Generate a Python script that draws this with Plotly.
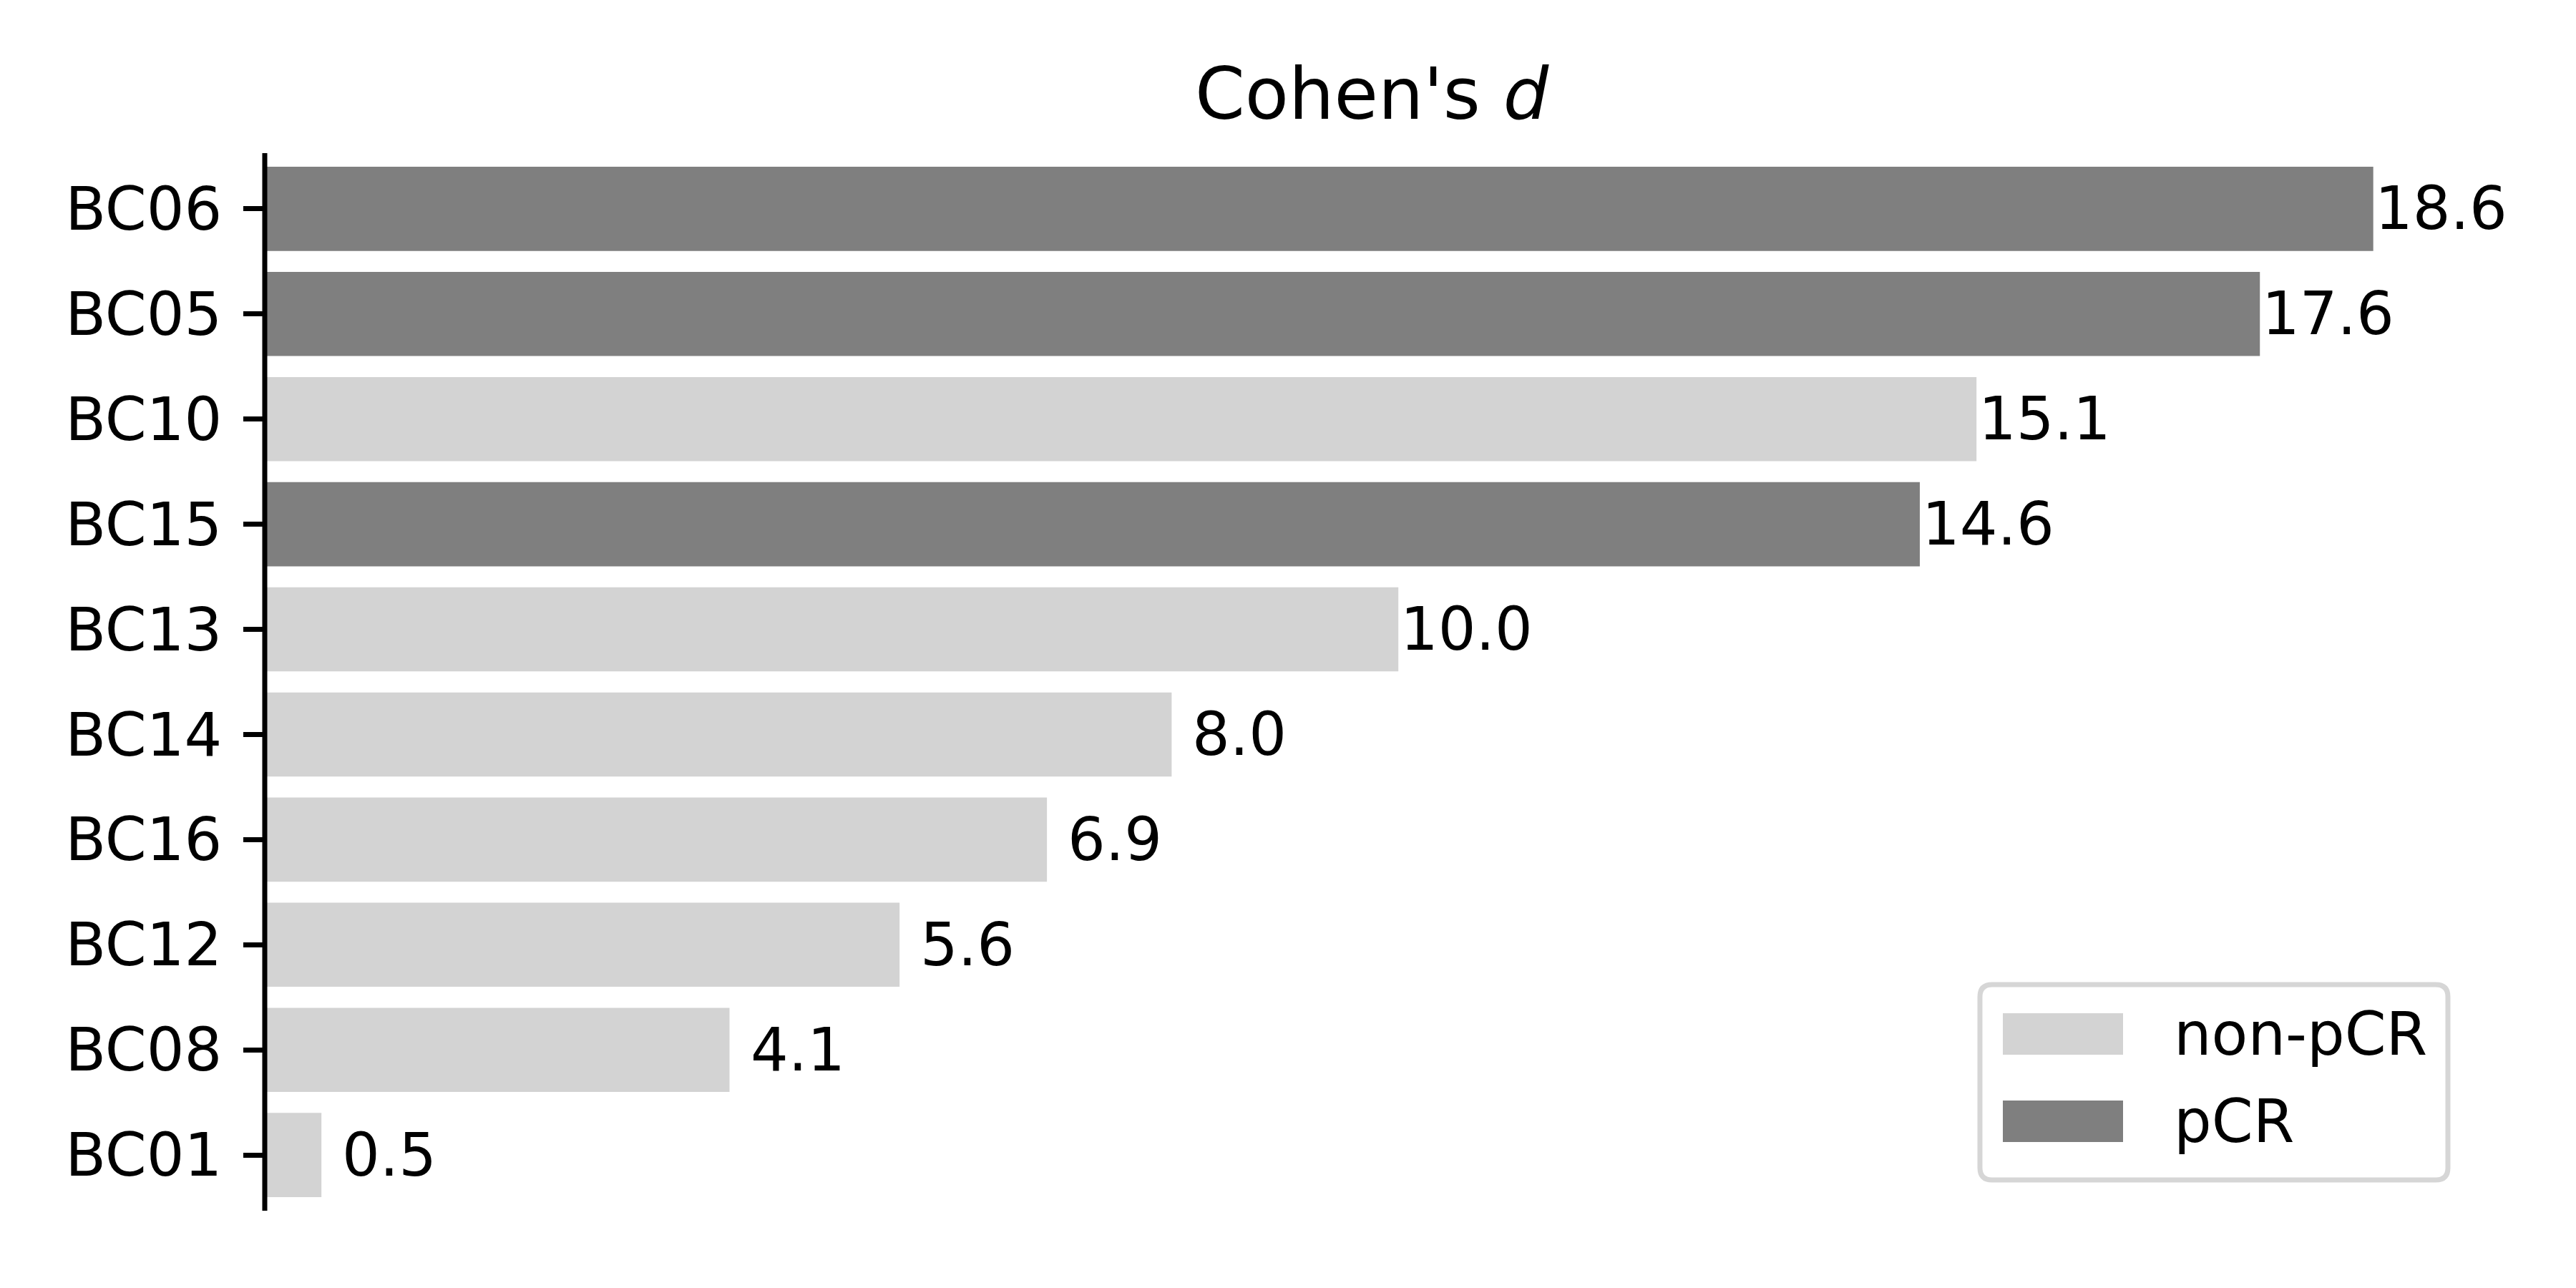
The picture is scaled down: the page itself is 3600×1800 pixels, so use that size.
import plotly.graph_objects as go

# ---- data ----
categories = ["BC06", "BC05", "BC10", "BC15", "BC13", "BC14", "BC16", "BC12", "BC08", "BC01"]
values = [18.6, 17.6, 15.1, 14.6, 10.0, 8.0, 6.9, 5.6, 4.1, 0.5]
groups = ["pCR", "pCR", "non-pCR", "pCR", "non-pCR", "non-pCR", "non-pCR", "non-pCR", "non-pCR", "non-pCR"]
legend_labels = ["non-pCR", "pCR"]
title_text = "Cohen's <i>d</i>"

# ---- style ----
COLORS = {"non-pCR": "#d3d3d3", "pCR": "#7f7f7f"}
FONT = "DejaVu Sans"
W, H = 3600, 1800
L, R, T, B = 370, 3464, 214, 1692
PAGE_OFF = 8  # default body margin of the html page
X_MAX = 19.53
LABEL_OFFSET = 0.6


def px(x):
    return (x - L) / (R - L)


def py(y):
    return (B - y) / (B - T)


fig = go.Figure()
for g in legend_labels:
    ys = [c for c, gg in zip(categories, groups) if gg == g]
    xs = [v for v, gg in zip(values, groups) if gg == g]
    fig.add_trace(go.Bar(
        x=xs, y=ys, orientation="h", width=0.8, name=g,
        marker=dict(color=COLORS[g], line=dict(width=0)),
        showlegend=False,
    ))

annotations = []
for c, v in zip(categories, values):
    annotations.append(dict(
        x=v + LABEL_OFFSET, y=c, xref="x", yref="y", text=f"{v:.1f}",
        showarrow=False, xanchor="center", yanchor="middle",
        font=dict(family=FONT, size=83, color="black"),
    ))

# title
annotations.append(dict(
    x=0.5, y=py(131), xref="paper", yref="paper", text=title_text,
    showarrow=False, xanchor="center", yanchor="middle",
    font=dict(family=FONT, size=100, color="black"),
))

shapes = []
# left spine, centred on the plot's left edge (x = 0) like matplotlib
shapes.append(dict(type="line", xref="paper", yref="paper", x0=0, x1=0, y0=0, y1=1,
                   line=dict(color="black", width=7), layer="above"))

# manual legend
x0, x1, y0, y1, r = 2767, 3421, 1376, 1649, 17


def P(x, y):
    return f"{px(x):.6f},{py(y):.6f}"


path = (f"M {P(x0 + r, y0)} L {P(x1 - r, y0)} Q {P(x1, y0)} {P(x1, y0 + r)} "
        f"L {P(x1, y1 - r)} Q {P(x1, y1)} {P(x1 - r, y1)} "
        f"L {P(x0 + r, y1)} Q {P(x0, y1)} {P(x0, y1 - r)} "
        f"L {P(x0, y0 + r)} Q {P(x0, y0)} {P(x0 + r, y0)} Z")
shapes.append(dict(type="path", xref="paper", yref="paper", path=path,
                   fillcolor="white", line=dict(color="#d6d6d6", width=7), layer="above"))
patch_rows = [(1416, 1474), (1538, 1596)]
for lab, (ya, yb) in zip(legend_labels, patch_rows):
    shapes.append(dict(type="rect", xref="paper", yref="paper",
                       x0=px(2799), x1=px(2967), y0=py(yb), y1=py(ya),
                       fillcolor=COLORS[lab], line=dict(width=0), layer="above"))
    annotations.append(dict(
        x=px(3036), y=py((ya + yb) / 2), xref="paper", yref="paper", text=lab,
        showarrow=False, xanchor="left", yanchor="middle",
        font=dict(family=FONT, size=83, color="black"),
    ))

fig.update_layout(
    width=W, height=H,
    margin=dict(l=L - PAGE_OFF, r=W - R + PAGE_OFF, t=T - PAGE_OFF, b=H - B + PAGE_OFF, pad=0),
    paper_bgcolor="white", plot_bgcolor="white",
    barmode="overlay",
    annotations=annotations,
    shapes=shapes,
    font=dict(family=FONT, color="black"),
    xaxis=dict(visible=False, range=[0, X_MAX], showgrid=False, zeroline=False),
    yaxis=dict(
        type="category", categoryorder="array", categoryarray=categories,
        range=[9.53, -0.53],
        showline=False,
        ticks="outside", ticklen=29, tickwidth=7, tickcolor="black",
        tickfont=dict(family=FONT, size=83, color="black"),
        ticklabelstandoff=13,
        showgrid=False, zeroline=False,
    ),
)

fig.write_html("out.html")
